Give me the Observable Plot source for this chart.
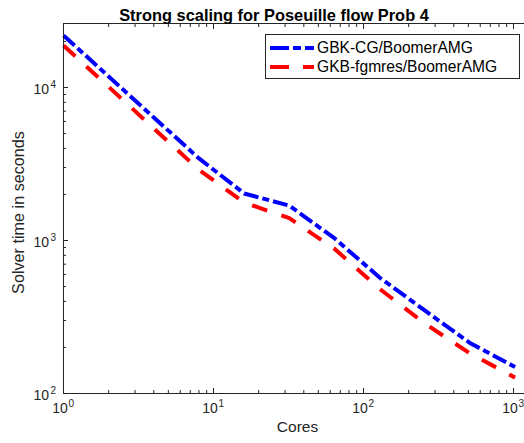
<!DOCTYPE html>
<html><head><meta charset="utf-8">
<script src="https://cdn.jsdelivr.net/npm/d3@7"></script>
<script src="https://cdn.jsdelivr.net/npm/@observablehq/plot@0.6"></script>
<style>
body{margin:0;background:#fff;font-family:"Liberation Sans",Arial,Helvetica,sans-serif;}
#wrap{position:relative;width:524px;height:443px;overflow:hidden;background:#fff;}
#chart svg{max-width:none !important;display:block;}
#legend{position:absolute;left:265px;top:34px;width:253px;height:43px;border:1px solid #262626;background:#fff;font-size:15.6px;color:#000;}
#legend .row{position:absolute;left:4px;height:18px;display:flex;align-items:center;}
#legend svg{display:block;margin-right:3px;}
</style></head><body><div id="wrap"><div id="chart"></div><div id="legend"></div></div>
<script>
const title = "Strong scaling for Poseuille flow Prob 4";
const xLabel = "Cores";
const yLabel = "Solver time in seconds";
const seriesNames = ["GBK-CG/BoomerAMG", "GKB-fgmres/BoomerAMG"];
const seriesColors = ["#0000ff", "#ff0000"];
const seriesDash = ["15,4,7,4", "16,15"];
const cores = [1, 2, 4, 8, 16, 32, 64, 128, 256, 512, 1024];
const gbkCG = [21900, 11800, 6370, 3440, 2030, 1690, 1035, 573, 349, 214, 149];
const gkbFgmres = [18800, 10100, 5400, 2900, 1770, 1400, 883, 483, 287, 183, 127];
const xMajor = [1, 10, 100, 1000];
const xMinor = [2,3,4,5,6,7,8,9,20,30,40,50,60,70,80,90,200,300,400,500,600,700,800,900];
const yMajor = [100, 1000, 10000];
const yMinor = [200,300,400,500,600,700,800,900,2000,3000,4000,5000,6000,7000,8000,9000,20000];
const xDomain = [1, 1318];
const yDomain = [100, 26200];

const data = [];
cores.forEach((c, i) => {
  data.push({cores: c, time: gbkCG[i], series: seriesNames[0]});
});
cores.forEach((c, i) => {
  data.push({cores: c, time: gkbFgmres[i], series: seriesNames[1]});
});

const axisColor = "#262626";
const tickFont = 14;

const chart = Plot.plot({
  width: 532, height: 443,
  marginLeft: 63, marginRight: 1, marginTop: 23, marginBottom: 50,
  style: {fontFamily: '"Liberation Sans", Arial, sans-serif', background: "#fff", overflow: "visible", maxWidth: "none"},
  x: {type: "log", domain: xDomain, axis: null},
  y: {type: "log", domain: yDomain, axis: null},
  marks: [
    Plot.line(data.filter(d => d.series === seriesNames[0]), {x: "cores", y: "time", stroke: seriesColors[0], strokeWidth: 4, strokeDasharray: seriesDash[0], strokeLinecap: "butt", strokeLinejoin: "round"}),
    Plot.line(data.filter(d => d.series === seriesNames[1]), {x: "cores", y: "time", stroke: seriesColors[1], strokeWidth: 4, strokeDasharray: seriesDash[1], strokeLinecap: "butt", strokeLinejoin: "round"}),
    Plot.axisX(xMajor, {anchor: "bottom", tickSize: -5, tickFormat: () => "", label: null, stroke: axisColor}),
    Plot.axisX(xMinor, {anchor: "bottom", tickSize: -3, tickFormat: () => "", label: null, stroke: axisColor}),
    Plot.axisX(xMajor, {anchor: "top", tickSize: -5, tickFormat: () => "", label: null, stroke: axisColor}),
    Plot.axisX(xMinor, {anchor: "top", tickSize: -3, tickFormat: () => "", label: null, stroke: axisColor}),
    Plot.axisY(yMajor, {anchor: "left", tickSize: -5, tickFormat: () => "", label: null, stroke: axisColor}),
    Plot.axisY(yMinor, {anchor: "left", tickSize: -3, tickFormat: () => "", label: null, stroke: axisColor}),
    Plot.frame({stroke: axisColor, strokeWidth: 1}),
    Plot.text(xMajor, {x: d => d, frameAnchor: "bottom", text: () => "10", dx: -3.5, dy: 19, fontSize: tickFont, fill: axisColor}),
    Plot.text(xMajor, {x: d => d, frameAnchor: "bottom", text: d => String(Math.round(Math.log10(d))), textAnchor: "start", dx: 5, dy: 13, fontSize: 10, fill: axisColor}),
    Plot.text(yMajor, {y: d => d, frameAnchor: "left", text: () => "10", textAnchor: "end", dx: -14.5, dy: 2.5, fontSize: tickFont, fill: axisColor}),
    Plot.text(yMajor, {y: d => d, frameAnchor: "left", text: d => String(Math.round(Math.log10(d))), textAnchor: "start", dx: -13, dy: -3, fontSize: 10, fill: axisColor}),
    Plot.text([title], {frameAnchor: "top", text: d => d, textAnchor: "middle", dx: -23.5, dy: -14, fontWeight: "bold", fontSize: 16.4, fill: "#000"}),
    Plot.text([xLabel], {frameAnchor: "bottom", text: d => d, textAnchor: "middle", dy: 38, fontSize: 15.5, fill: axisColor}),
    Plot.text([yLabel], {frameAnchor: "left", text: d => d, textAnchor: "middle", rotate: -90, dx: -45, dy: 4, fontSize: 16.2, fill: axisColor})
  ]
});
document.getElementById("chart").appendChild(chart);

const legend = document.getElementById("legend");
seriesNames.forEach((name, i) => {
  const row = document.createElement("div");
  row.className = "row";
  row.style.top = (i === 0 ? 4 : 23) + "px";
  row.innerHTML = `<svg width="44" height="8"><line x1="0" y1="4" x2="44" y2="4" stroke="${seriesColors[i]}" stroke-width="4" stroke-dasharray="${i === 0 ? '19,4,8,4' : '19,14'}"/></svg><span>${name}</span>`;
  legend.appendChild(row);
});
</script>
</body></html>
